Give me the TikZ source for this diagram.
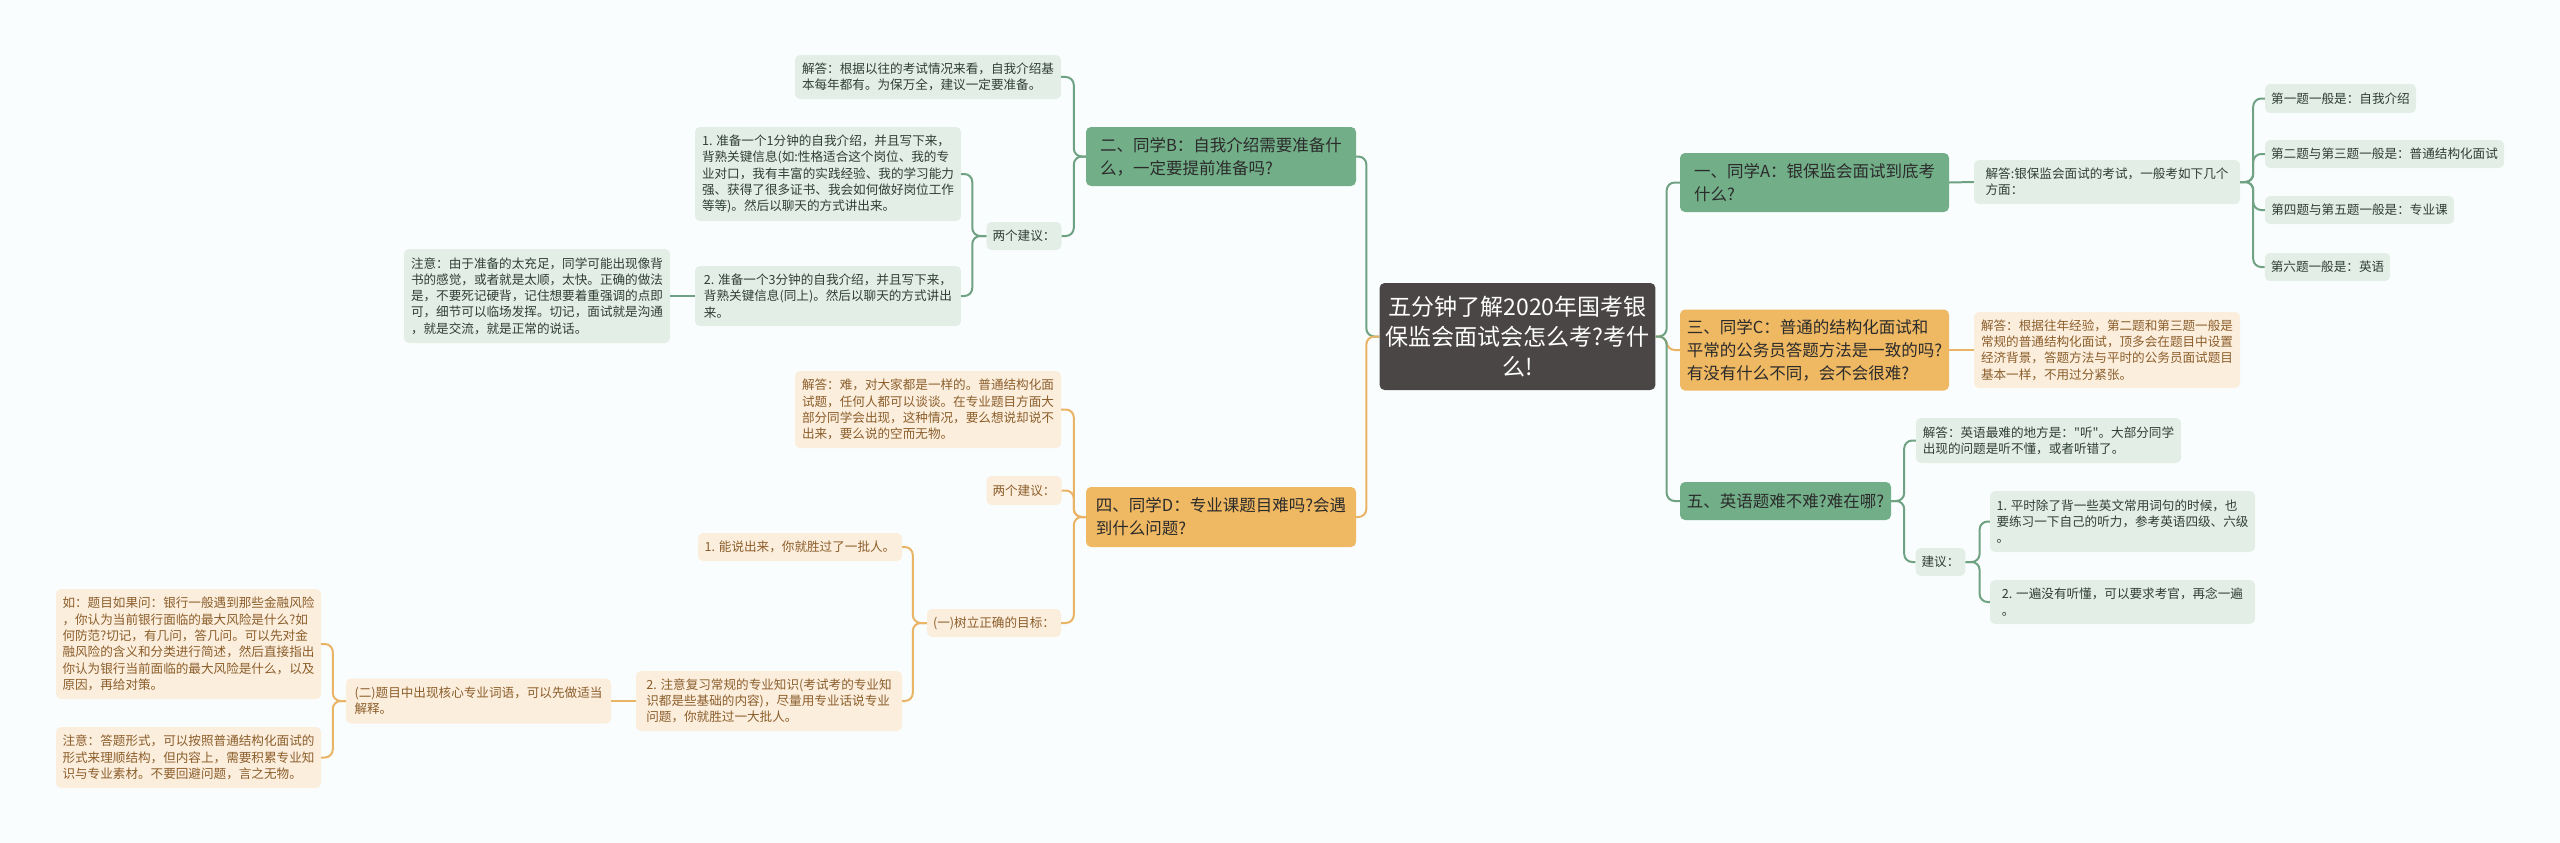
\documentclass[tikz,border=0pt]{standalone}
\usepackage{fontspec}
\setmainfont{Noto Sans CJK SC}[Ligatures=TeXOff]
\definecolor{bgc}{HTML}{FAFDFD}
\definecolor{cfill}{HTML}{4A4645}
\definecolor{gfill}{HTML}{72AE88}
\definecolor{ofill}{HTML}{EFB862}
\definecolor{lgfill}{HTML}{E3EEE6}
\definecolor{lofill}{HTML}{FCEEDD}
\definecolor{gline}{HTML}{6FA283}
\definecolor{oline}{HTML}{E9B466}
\definecolor{tdark}{HTML}{2B2B2B}
\definecolor{gtext}{HTML}{2F3F35}
\definecolor{otext}{HTML}{8B5E2B}
\tikzset{
  base/.style={rounded corners=5, inner xsep=6, inner ysep=0, align=left, anchor=center},
  cen/.style={base, fill=cfill, text=white, font=\fontsize{23}{30}\selectfont, align=center},
  gone/.style={base, fill=gfill, text=tdark, font=\fontsize{16.5}{23}\selectfont},
  oone/.style={base, fill=ofill, text=tdark, font=\fontsize{16.5}{23}\selectfont},
  gsm/.style={base, fill=lgfill, text=gtext, font=\fontsize{12.6}{16.3}\selectfont},
  osm/.style={base, fill=lofill, text=otext, font=\fontsize{12.6}{16.3}\selectfont},
  gc/.style={draw=gline, line width=2, rounded corners=8},
  oc/.style={draw=oline, line width=2, rounded corners=8}
}
\begin{document}
\begin{tikzpicture}[x=1pt, y=-1pt]
\fill[bgc] (0,0) rectangle (2560,843);
\useasboundingbox (0,0) rectangle (2560,843);

% central
\node[cen, minimum width=275, minimum height=107] (C) at (1517.5,336.5)
  {五分钟了解2020年国考银\\保监会面试会怎么考?考什\\么!};

% right side
\node[gone, minimum width=269, minimum height=59] (A1) at (1814.5,182.5)
  {一、同学A：银保监会面试到底考\\什么?};
\node[gsm, minimum width=266, minimum height=44] (A2) at (2107,182)
  {解答:银保监会面试的考试，一般考如下几个\\方面：};
\node[gsm, minimum width=151, minimum height=29] (A3a) at (2340.5,98.5)
  {第一题一般是：自我介绍};
\node[gsm, minimum width=239, minimum height=28] (A3b) at (2384.5,154)
  {第二题与第三题一般是：普通结构化面试};
\node[gsm, minimum width=189, minimum height=28] (A3c) at (2359.5,210)
  {第四题与第五题一般是：专业课};
\node[gsm, minimum width=125, minimum height=28] (A3d) at (2327.5,267)
  {第六题一般是：英语};

\node[oone, minimum width=269, minimum height=81] (C1) at (1814.5,350)
  {三、同学C：普通的结构化面试和\\平常的公务员答题方法是一致的吗?\\有没有什么不同，会不会很难?};
\node[osm, minimum width=266, minimum height=76] (C2) at (2107,350)
  {解答：根据往年经验，第二题和第三题一般是\\常规的普通结构化面试，顶多会在题目中设置\\经济背景，答题方法与平时的公务员面试题目\\基本一样，不用过分紧张。};

\node[gone, minimum width=211, minimum height=38] (E1) at (1785.5,501)
  {五、英语题难不难?难在哪?};
\node[gsm, minimum width=265, minimum height=45] (E2) at (2048.5,440.5)
  {解答：英语最难的地方是："听"。大部分同学\\出现的问题是听不懂，或者听错了。};
\node[gsm, minimum width=49, minimum height=28] (E3) at (1940.5,562)
  {建议：};
\node[gsm, minimum width=265, minimum height=61] (E4) at (2122.5,521.5)
  {1. 平时除了背一些英文常用词句的时候，也\\要练习一下自己的听力，参考英语四级、六级\\。};
\node[gsm, minimum width=265, minimum height=44] (E5) at (2122.5,602)
  {2. 一遍没有听懂，可以要求考官，再念一遍\\。};

% left side
\node[gone, minimum width=270, minimum height=59] (B1) at (1221,156.5)
  {二、同学B：自我介绍需要准备什\\么，一定要提前准备吗?};
\node[gsm, minimum width=266, minimum height=44] (B2) at (928,77)
  {解答：根据以往的考试情况来看，自我介绍基\\本每年都有。为保万全，建议一定要准备。};
\node[gsm, minimum width=74, minimum height=28] (B3) at (1024,236)
  {两个建议：};
\node[gsm, minimum width=266, minimum height=94] (B4) at (828,174)
  {1. 准备一个1分钟的自我介绍，并且写下来，\\背熟关键信息(如:性格适合这个岗位、我的专\\业对口，我有丰富的实践经验、我的学习能力\\强、获得了很多证书、我会如何做好岗位工作\\等等)。然后以聊天的方式讲出来。};
\node[gsm, minimum width=266, minimum height=60] (B5) at (828,296)
  {2. 准备一个3分钟的自我介绍，并且写下来，\\背熟关键信息(同上)。然后以聊天的方式讲出\\来。};
\node[gsm, minimum width=266, minimum height=94] (B6) at (537,296)
  {注意：由于准备的太充足，同学可能出现像背\\书的感觉，或者就是太顺，太快。正确的做法\\是，不要死记硬背，记住想要着重强调的点即\\可，细节可以临场发挥。切记，面试就是沟通\\，就是交流，就是正常的说话。};

\node[oone, minimum width=270, minimum height=60] (D1) at (1221,517)
  {四、同学D：专业课题目难吗?会遇\\到什么问题?};
\node[osm, minimum width=266, minimum height=77] (D2) at (928,409.5)
  {解答：难，对大家都是一样的。普通结构化面\\试题，任何人都可以谈谈。在专业题目方面大\\部分同学会出现，这种情况，要么想说却说不\\出来，要么说的空而无物。};
\node[osm, minimum width=74, minimum height=29] (D3) at (1024,490.5)
  {两个建议：};
\node[osm, minimum width=134, minimum height=28] (D4) at (994,623)
  {(一)树立正确的目标：};
\node[osm, minimum width=204, minimum height=28] (D5) at (800,547)
  {1. 能说出来，你就胜过了一批人。};
\node[osm, minimum width=266, minimum height=60] (D6) at (769,701)
  {2. 注意复习常规的专业知识(考试考的专业知\\识都是些基础的内容)，尽量用专业话说专业\\问题，你就胜过一大批人。};
\node[osm, minimum width=265, minimum height=45] (D7) at (478.5,701)
  {(二)题目中出现核心专业词语，可以先做适当\\解释。};
\node[osm, minimum width=265, minimum height=110] (D8) at (188.5,644)
  {如：题目如果问：银行一般遇到那些金融风险\\，你认为当前银行面临的最大风险是什么?如\\何防范?切记，有几问，答几问。可以先对金\\融风险的含义和分类进行简述，然后直接指出\\你认为银行当前面临的最大风险是什么，以及\\原因，再给对策。};
\node[osm, minimum width=265, minimum height=61] (D9) at (188.5,757.5)
  {注意：答题形式，可以按照普通结构化面试的\\形式来理顺结构，但内容上，需要积累专业知\\识与专业素材。不要回避问题，言之无物。};

% connectors right
\draw[gc] (C.east) -- ++(11,0) |- (A1.west);
\draw[oc] (C.east) -- ++(11,0) |- (C1.west);
\draw[gc] (C.east) -- ++(11,0) |- (E1.west);
\draw[gc] (A1.east) -- (A2.west);
\draw[gc] (A2.east) -- ++(13,0) |- (A3a.west);
\draw[gc] (A2.east) -- ++(13,0) |- (A3b.west);
\draw[gc] (A2.east) -- ++(13,0) |- (A3c.west);
\draw[gc] (A2.east) -- ++(13,0) |- (A3d.west);
\draw[oc] (C1.east) -- (C2.west);
\draw[gc] (E1.east) -- ++(13,0) |- (E2.west);
\draw[gc] (E1.east) -- ++(13,0) |- (E3.west);
\draw[gc] (E3.east) -- ++(14,0) |- (E4.west);
\draw[gc] (E3.east) -- ++(14,0) |- (E5.west);

% connectors left
\draw[gc] (C.west) -- ++(-13,0) |- (B1.east);
\draw[oc] (C.west) -- ++(-13,0) |- (D1.east);
\draw[gc] (B1.west) -- ++(-12,0) |- (B2.east);
\draw[gc] (B1.west) -- ++(-12,0) |- (B3.east);
\draw[gc] (B3.west) -- ++(-14,0) |- (B4.east);
\draw[gc] (B3.west) -- ++(-14,0) |- (B5.east);
\draw[gc] (B5.west) -- (B6.east);
\draw[oc] (D1.west) -- ++(-12,0) |- (D2.east);
\draw[oc] (D1.west) -- ++(-12,0) |- (D3.east);
\draw[oc] (D1.west) -- ++(-12,0) |- (D4.east);
\draw[oc] (D4.west) -- ++(-14,0) |- (D5.east);
\draw[oc] (D4.west) -- ++(-14,0) |- (D6.east);
\draw[oc] (D6.west) -- (D7.east);
\draw[oc] (D7.west) -- ++(-13,0) |- (D8.east);
\draw[oc] (D7.west) -- ++(-13,0) |- (D9.east);
\end{tikzpicture}
\end{document}
